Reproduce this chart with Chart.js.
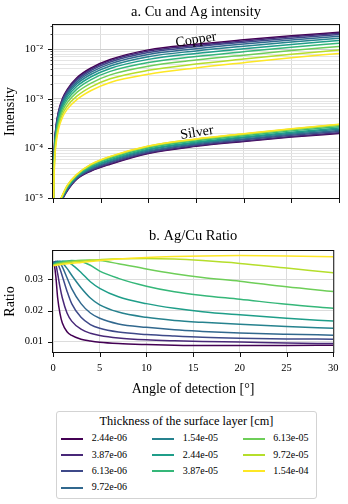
<!DOCTYPE html>
<html><head><meta charset="utf-8">
<script src="https://cdn.jsdelivr.net/npm/chart.js@4.4.1/dist/chart.umd.min.js"></script>
<style>
body{margin:0;background:#fff;}
#wrap{position:relative;width:348px;height:504px;overflow:hidden;font-family:"Liberation Serif","Times New Roman",serif;color:#000;}
#wrap canvas{position:absolute;left:0;}
#legend{position:absolute;left:56px;top:411px;width:261px;height:88px;border:1px solid #d3d3d3;border-radius:3px;box-sizing:border-box;background:#fff;}
#legend .ttl{position:absolute;left:0;width:100%;text-align:center;font-size:12.3px;line-height:14px;}
#legend .h{position:absolute;width:22px;height:0;border-top:2px solid #000;}
#legend .t{position:absolute;font-size:10px;line-height:12px;white-space:nowrap;}
</style></head>
<body>
<div id="wrap">
<canvas id="c1" width="348" height="215" style="top:0;width:348px;height:215px"></canvas>
<canvas id="c2" width="348" height="185" style="top:215px;width:348px;height:185px"></canvas>
<div id="legend"></div>
</div>
<script>
const SERIF = '"Liberation Serif", "Times New Roman", serif';

const thicknessLabels = ['2.44e-06','3.87e-06','6.13e-06','9.72e-06','1.54e-05','2.44e-05','3.87e-05','6.13e-05','9.72e-05','1.54e-04'];
const viridis10 = ['#440154','#482878','#3e4989','#31688e','#26828e','#1f9e89','#35b779','#6ece58','#b5de2b','#fde725'];

// angles (deg) for intensity curves
const intensityAngles = [0.01, 0.05, 0.15, 0.3, 0.6, 1, 1.5, 2.5, 4, 6, 10, 15, 20, 25, 30];
// Copper intensity per thickness
const cu0 = [1.4e-6, 1.1e-5, 1.0e-4, 2.6e-4, 5.8e-4, 1.02e-3, 1.55e-3, 2.65e-3, 4.2e-3, 6.2e-3, 9.7e-3, 1.26e-2, 1.55e-2, 1.87e-2, 2.2e-2];
const cu1 = [1.35e-6, 1.05e-5, 9.6e-5, 2.49e-4, 5.56e-4, 9.76e-4, 1.48e-3, 2.52e-3, 3.99e-3, 5.88e-3, 9.17e-3, 1.19e-2, 1.47e-2, 1.78e-2, 2.09e-2];
const cu2 = [1.3e-6, 1.0e-5, 9.12e-5, 2.37e-4, 5.29e-4, 9.26e-4, 1.40e-3, 2.37e-3, 3.74e-3, 5.52e-3, 8.57e-3, 1.12e-2, 1.38e-2, 1.67e-2, 1.98e-2];
const cu3 = [1.2e-6, 9.4e-6, 8.53e-5, 2.22e-4, 4.95e-4, 8.64e-4, 1.30e-3, 2.19e-3, 3.44e-3, 5.07e-3, 7.83e-3, 1.02e-2, 1.27e-2, 1.54e-2, 1.83e-2];
const cu4 = [1.1e-6, 8.7e-6, 7.92e-5, 2.06e-4, 4.59e-4, 7.99e-4, 1.20e-3, 2.0e-3, 3.13e-3, 4.60e-3, 7.07e-3, 9.26e-3, 1.15e-2, 1.40e-2, 1.67e-2];
const cu5 = [1.0e-6, 7.9e-6, 7.23e-5, 1.88e-4, 4.19e-4, 7.25e-4, 1.085e-3, 1.79e-3, 2.79e-3, 4.10e-3, 6.24e-3, 8.22e-3, 1.02e-2, 1.25e-2, 1.50e-2];
const cu6 = [9e-7, 7.1e-6, 6.48e-5, 1.68e-4, 3.76e-4, 6.47e-4, 9.63e-4, 1.57e-3, 2.44e-3, 3.57e-3, 5.39e-3, 7.12e-3, 8.91e-3, 1.10e-2, 1.32e-2];
const cu7 = [8e-7, 6.3e-6, 5.72e-5, 1.49e-4, 3.32e-4, 5.67e-4, 8.39e-4, 1.35e-3, 2.08e-3, 3.04e-3, 4.55e-3, 6.04e-3, 7.60e-3, 9.42e-3, 1.14e-2];
const cu8 = [7e-7, 5.5e-6, 4.97e-5, 1.29e-4, 2.88e-4, 4.90e-4, 7.18e-4, 1.13e-3, 1.74e-3, 2.54e-3, 3.75e-3, 5.01e-3, 6.34e-3, 7.93e-3, 9.64e-3];
const cu9 = [6e-7, 4.8e-6, 4.35e-5, 1.13e-4, 2.52e-4, 4.25e-4, 6.2e-4, 9.65e-4, 1.47e-3, 2.14e-3, 3.13e-3, 4.20e-3, 5.35e-3, 6.73e-3, 8.23e-3];
// Silver intensity per thickness
const ag0 = [1e-8, 3e-7, 1.5e-6, 3.5e-6, 6.5e-6, 9.5e-6, 1.4e-5, 2.4e-5, 3.5e-5, 4.8e-5, 7.9e-5, 1.1e-4, 1.38e-4, 1.69e-4, 2.0e-4];
const ag1 = [1e-8, 3e-7, 1.51e-6, 3.53e-6, 6.56e-6, 9.62e-6, 1.42e-5, 2.44e-5, 3.58e-5, 4.93e-5, 8.1e-5, 1.127e-4, 1.416e-4, 1.739e-4, 2.064e-4];
const ag2 = [1e-8, 2.9e-7, 1.52e-6, 3.59e-6, 6.68e-6, 9.86e-6, 1.47e-5, 2.51e-5, 3.73e-5, 5.18e-5, 8.49e-5, 1.181e-4, 1.488e-4, 1.836e-4, 2.19e-4];
const ag3 = [1e-8, 2.9e-7, 1.53e-6, 3.65e-6, 6.79e-6, 1.008e-5, 1.52e-5, 2.57e-5, 3.88e-5, 5.41e-5, 8.86e-5, 1.231e-4, 1.554e-4, 1.925e-4, 2.307e-4];
const ag4 = [1e-8, 2.8e-7, 1.54e-6, 3.71e-6, 6.92e-6, 1.034e-5, 1.57e-5, 2.65e-5, 4.05e-5, 5.68e-5, 9.29e-5, 1.289e-4, 1.632e-4, 2.03e-4, 2.445e-4];
const ag5 = [1e-8, 2.7e-7, 1.55e-6, 3.77e-6, 7.04e-6, 1.058e-5, 1.62e-5, 2.72e-5, 4.2e-5, 5.93e-5, 9.68e-5, 1.343e-4, 1.704e-4, 2.127e-4, 2.572e-4];
const ag6 = [1e-8, 2.65e-7, 1.57e-6, 3.85e-6, 7.2e-6, 1.09e-5, 1.68e-5, 2.82e-5, 4.41e-5, 6.27e-5, 1.021e-4, 1.415e-4, 1.8e-4, 2.257e-4, 2.742e-4];
const ag7 = [1e-8, 2.6e-7, 1.59e-6, 3.93e-6, 7.36e-6, 1.122e-5, 1.74e-5, 2.92e-5, 4.62e-5, 6.61e-5, 1.074e-4, 1.487e-4, 1.896e-4, 2.387e-4, 2.912e-4];
const ag8 = [1e-8, 2.5e-7, 1.6e-6, 3.99e-6, 7.47e-6, 1.144e-5, 1.79e-5, 2.98e-5, 4.76e-5, 6.84e-5, 1.11e-4, 1.537e-4, 1.962e-4, 2.476e-4, 3.028e-4];
const ag9 = [1e-8, 2.5e-7, 1.6e-6, 4e-6, 7.5e-6, 1.15e-5, 1.8e-5, 3.0e-5, 4.8e-5, 6.9e-5, 1.12e-4, 1.55e-4, 1.98e-4, 2.5e-4, 3.06e-4];

// angles (deg) for ratio curves
const ratioAngles = [0.05, 0.15, 0.3, 0.5, 0.75, 1, 1.5, 2, 3, 4, 5, 7, 10, 13, 16, 20, 25, 30];
const ratio0 = [0.0355, 0.0345, 0.0310, 0.0240, 0.0190, 0.0160, 0.0132, 0.0120, 0.0108, 0.0102, 0.0098, 0.0094, 0.0091, 0.0089, 0.0088, 0.0088, 0.0088, 0.0089];
const ratio1 = [0.0355, 0.0356, 0.0348, 0.0318, 0.0275, 0.0240, 0.0192, 0.0166, 0.0140, 0.0127, 0.0120, 0.0112, 0.0106, 0.0103, 0.0101, 0.0099, 0.0096, 0.0094];
const ratio2 = [0.0354, 0.0356, 0.0357, 0.0350, 0.0333, 0.0310, 0.0262, 0.0222, 0.0178, 0.0155, 0.0143, 0.0131, 0.0123, 0.0118, 0.0114, 0.0111, 0.0109, 0.0108];
const ratio3 = [0.0353, 0.0355, 0.0357, 0.0358, 0.0352, 0.0340, 0.0305, 0.0270, 0.0222, 0.0192, 0.0175, 0.0157, 0.0146, 0.0138, 0.0133, 0.0128, 0.0124, 0.0121];
const ratio4 = [0.0352, 0.0353, 0.0355, 0.0357, 0.0358, 0.0352, 0.0335, 0.0313, 0.0273, 0.0240, 0.0218, 0.0195, 0.0178, 0.0168, 0.0162, 0.0156, 0.0149, 0.0143];
const ratio5 = [0.0350, 0.0351, 0.0353, 0.0355, 0.0357, 0.0358, 0.0356, 0.0348, 0.0322, 0.0292, 0.0271, 0.0244, 0.0222, 0.0207, 0.0196, 0.0186, 0.0175, 0.0166];
const ratio6 = [0.0348, 0.0349, 0.0351, 0.0353, 0.0355, 0.0357, 0.0359, 0.0360, 0.0357, 0.0345, 0.0326, 0.0303, 0.0278, 0.0260, 0.0248, 0.0236, 0.0220, 0.0207];
const ratio7 = [0.0346, 0.0347, 0.0349, 0.0350, 0.0352, 0.0353, 0.0356, 0.0358, 0.0361, 0.0362, 0.0360, 0.0350, 0.0333, 0.0318, 0.0306, 0.0294, 0.0276, 0.0261];
const ratio8 = [0.0345, 0.0346, 0.0347, 0.0348, 0.0350, 0.0351, 0.0353, 0.0355, 0.0358, 0.0361, 0.0363, 0.0366, 0.0367, 0.0365, 0.0360, 0.0351, 0.0336, 0.0321];
const ratio9 = [0.0343, 0.0344, 0.0345, 0.0346, 0.0347, 0.0348, 0.0350, 0.0351, 0.0354, 0.0357, 0.0360, 0.0365, 0.0370, 0.0373, 0.0375, 0.0376, 0.0375, 0.0372];

// ticks
const decadeValues = [1e-5, 1e-4, 1e-3, 1e-2];
const decadeLabels = ['10\u207B\u2075', '10\u207B\u2074', '10\u207B\u00B3', '10\u207B\u00B2'];
const angleTicks = [0, 5, 10, 15, 20, 25, 30];
const angleTickLabels = ['0', '5', '10', '15', '20', '25', '30'];
const ratioTicks = [0.01, 0.02, 0.03];
const ratioTickLabels = ['0.01', '0.02', '0.03'];

const copperSeries = [cu0, cu1, cu2, cu3, cu4, cu5, cu6, cu7, cu8, cu9];
const silverSeries = [ag0, ag1, ag2, ag3, ag4, ag5, ag6, ag7, ag8, ag9];
const ratioSeries = [ratio0, ratio1, ratio2, ratio3, ratio4, ratio5, ratio6, ratio7, ratio8, ratio9];

Chart.defaults.font.family = SERIF;
Chart.defaults.color = '#000';

const Y1MIN = 1e-5, Y1MAX = 3.08e-2;
const logTickValues = [];
decadeValues.forEach(d => { for (let m = 1; m <= 9; m++) { const v = m * d; if (v <= Y1MAX * 1.0001) logTickValues.push(v); } });
const isDecade = v => decadeValues.some(d => Math.abs(v / d - 1) < 1e-6);

const toXY = (xs, ys) => xs.map((x, i) => ({x: x, y: ys[i]}));

function lineDs(xs, ys, k) {
  return {
    data: toXY(xs, ys), borderColor: viridis10[k], borderWidth: 1.5, pointRadius: 0,
    fill: false, cubicInterpolationMode: 'monotone', order: 9 - k
  };
}

const framePlugin = {
  id: 'frameTicks',
  afterDraw(chart) {
    const {ctx, chartArea: a} = chart;
    const xs = chart.scales.x, ys = chart.scales.y;
    ctx.save();
    ctx.strokeStyle = '#111';
    ctx.lineWidth = 1;
    ctx.strokeRect(a.left - 0.5, a.top - 0.5, a.right - a.left + 1, a.bottom - a.top + 1);
    ys.ticks.forEach(t => {
      const maj = ys.type !== 'logarithmic' || isDecade(t.value);
      const p = Math.round(ys.getPixelForValue(t.value)) + 0.5;
      const len = maj ? 5 : 2.5;
      ctx.lineWidth = maj ? 1 : 0.8;
      ctx.beginPath(); ctx.moveTo(a.left - len, p); ctx.lineTo(a.left, p); ctx.stroke();
    });
    ctx.lineWidth = 1;
    xs.ticks.forEach(t => {
      const p = Math.round(xs.getPixelForValue(t.value)) + 0.5;
      ctx.beginPath(); ctx.moveTo(p, a.bottom); ctx.lineTo(p, a.bottom + 5); ctx.stroke();
    });
    ctx.restore();
  }
};

const curveNames = ['Copper', 'Silver'];
const curveNamePos = [{x: 15, y: 1.55e-2}, {x: 15.1, y: 2.07e-4}];
const namePlugin = {
  id: 'curveNames',
  afterDatasetsDraw(chart) {
    const {ctx} = chart;
    const xs = chart.scales.x, ys = chart.scales.y;
    ctx.save();
    ctx.font = '14px ' + SERIF;
    ctx.fillStyle = '#000';
    ctx.textAlign = 'center';
    ctx.textBaseline = 'middle';
    curveNames.forEach((n, i) => {
      const px = xs.getPixelForValue(curveNamePos[i].x), py = ys.getPixelForValue(curveNamePos[i].y);
      ctx.save(); ctx.translate(px, py); ctx.rotate(-9 * Math.PI / 180); ctx.fillText(n, 0, 0); ctx.restore();
    });
    ctx.restore();
  }
};

const dsA = [];
for (let k = 0; k < 10; k++) {
  dsA.push(Object.assign(lineDs(intensityAngles, copperSeries[k], k), {label: 'Cu ' + thicknessLabels[k]}));
  dsA.push(Object.assign(lineDs(intensityAngles, silverSeries[k], k), {label: 'Ag ' + thicknessLabels[k]}));
}

new Chart(document.getElementById('c1'), {
  type: 'line',
  data: {datasets: dsA},
  options: {
    responsive: false, animation: false, devicePixelRatio: 1,
    layout: {padding: {left: 0, right: 9, top: 0, bottom: 0}},
    plugins: {
      legend: {display: false}, tooltip: {enabled: false},
      title: {display: true, text: 'a. Cu and Ag intensity', fullSize: false, padding: {top: 3, bottom: 4.6}, font: {size: 14.5, weight: 'normal', family: SERIF}, color: '#000'}
    },
    scales: {
      x: {
        type: 'linear', min: 0, max: 30,
        afterBuildTicks: s => { s.ticks = angleTicks.map(v => ({value: v})); },
        afterFit: s => { s.height = 17; },
        ticks: {display: false},
        grid: {color: '#dcdcdc', lineWidth: 1, drawTicks: false},
        border: {display: false}
      },
      y: {
        type: 'logarithmic', min: Y1MIN, max: Y1MAX,
        afterBuildTicks: s => { s.ticks = logTickValues.map(v => ({value: v, major: isDecade(v)})); },
        afterFit: s => { s.width = 53; },
        ticks: {
          autoSkip: false, padding: 10, font: {size: 11, family: SERIF},
          callback: v => { const i = decadeValues.findIndex(d => Math.abs(v / d - 1) < 1e-6); return i >= 0 ? decadeLabels[i] : ''; }
        },
        grid: {color: c => isDecade(c.tick.value) ? '#cdcdcd' : '#e4e4e4', lineWidth: 1, drawTicks: false},
        border: {display: false},
        title: {display: true, text: 'Intensity', font: {size: 14, family: SERIF}, padding: {top: 1.6, bottom: 0}, color: '#000'}
      }
    }
  },
  plugins: [framePlugin, namePlugin]
});

const dsB = [];
for (let k = 0; k < 10; k++) {
  dsB.push(Object.assign(lineDs(ratioAngles, ratioSeries[k], k), {label: thicknessLabels[k]}));
}

new Chart(document.getElementById('c2'), {
  type: 'line',
  data: {datasets: dsB},
  options: {
    responsive: false, animation: false, devicePixelRatio: 1,
    layout: {padding: {left: 0, right: 9, top: 0, bottom: 0}},
    plugins: {
      legend: {display: false}, tooltip: {enabled: false},
      title: {display: true, text: 'b. Ag/Cu Ratio', fullSize: false, padding: {top: 12.3, bottom: 6.3}, font: {size: 14.5, weight: 'normal', family: SERIF}, color: '#000'}
    },
    scales: {
      x: {
        type: 'linear', min: 0, max: 30,
        afterBuildTicks: s => { s.ticks = angleTicks.map(v => ({value: v})); },
        afterFit: s => { s.height = 48; },
        ticks: {
          autoSkip: false, maxRotation: 0, padding: 9.5, font: {size: 10.5, family: SERIF},
          callback: (v, i) => angleTickLabels[angleTicks.indexOf(v)]
        },
        grid: {color: '#dcdcdc', lineWidth: 1, drawTicks: false},
        border: {display: false},
        title: {display: true, text: 'Angle of detection [\u00B0]', font: {size: 14, family: SERIF}, padding: {top: 0, bottom: 2.5}, color: '#000'}
      },
      y: {
        type: 'linear', min: 0.0067, max: 0.03907,
        afterBuildTicks: s => { s.ticks = ratioTicks.map(v => ({value: v})); },
        afterFit: s => { s.width = 53; },
        ticks: {
          autoSkip: false, padding: 10, font: {size: 10.5, family: SERIF},
          callback: v => ratioTickLabels[ratioTicks.findIndex(r => Math.abs(r - v) < 1e-9)]
        },
        grid: {color: '#dcdcdc', lineWidth: 1, drawTicks: false},
        border: {display: false},
        title: {display: true, text: 'Ratio', font: {size: 14, family: SERIF}, padding: {top: 1.6, bottom: 0}, color: '#000'}
      }
    }
  },
  plugins: [framePlugin]
});

// legend (3 columns, column-major like the reference)
const legend = document.getElementById('legend');
const ttl = document.createElement('div');
ttl.className = 'ttl'; ttl.style.top = '2px';
ttl.textContent = 'Thickness of the surface layer [cm]';
legend.appendChild(ttl);
const colStart = [0, 4, 7];
const handleX = [3.7, 94.7, 185.7];
const textX = [34.7, 125.7, 216.3];
const rowY = [26.7, 43, 59.3, 75.7];
thicknessLabels.forEach((lab, i) => {
  const col = i < 4 ? 0 : (i < 7 ? 1 : 2);
  const row = i - colStart[col];
  const h = document.createElement('div');
  h.className = 'h';
  h.style.left = handleX[col] + 'px';
  h.style.top = (rowY[row] - 1) + 'px';
  h.style.borderTopColor = viridis10[i];
  legend.appendChild(h);
  const t = document.createElement('div');
  t.className = 't';
  t.style.left = textX[col] + 'px';
  t.style.top = (rowY[row] - 6.5) + 'px';
  t.textContent = lab;
  legend.appendChild(t);
});
</script>
</body></html>
